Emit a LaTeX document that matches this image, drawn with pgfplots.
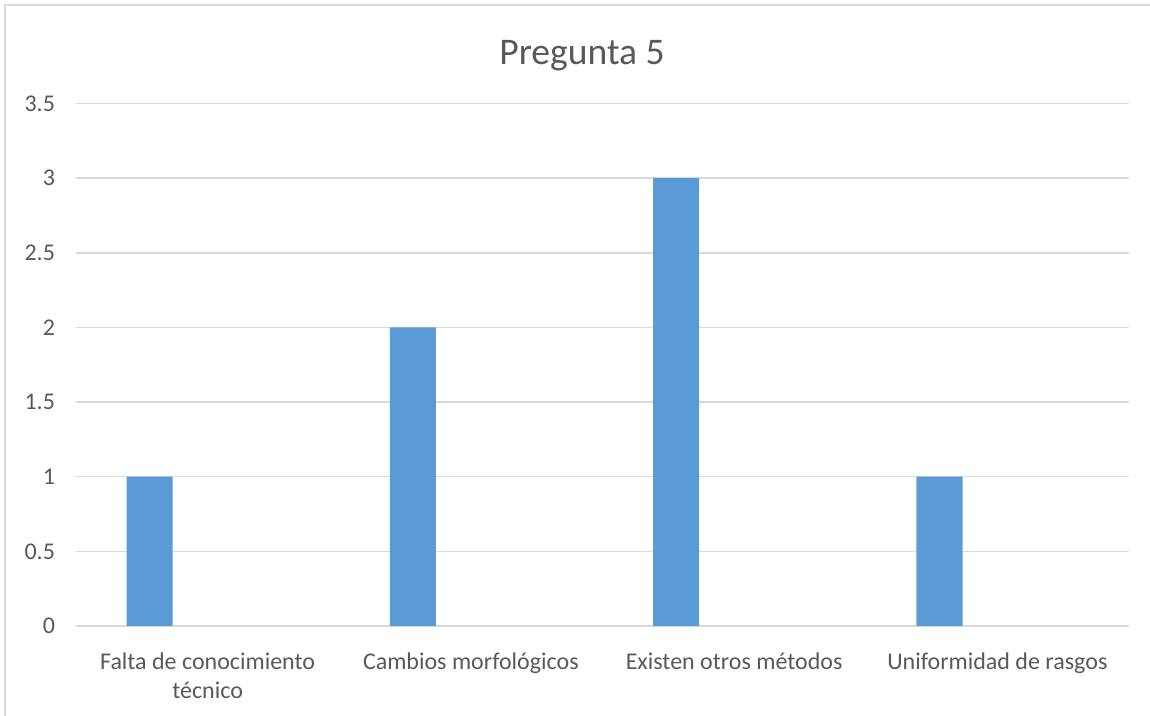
\documentclass[border=0pt]{standalone}
\usepackage{pgfplots}
\pgfplotsset{compat=1.18}
\usepackage{fontspec}
\setmainfont{Carlito}
\definecolor{barblue}{HTML}{5B9BD5}
\definecolor{gridgray}{HTML}{D9D9D9}
\definecolor{txtgray}{HTML}{595959}
\begin{document}
\begin{tikzpicture}[x=1pt,y=1pt]
\useasboundingbox (0,0) rectangle (575,358);
\draw[gridgray, line width=0.75pt] (2.5,0) -- (2.5,355.5) -- (575,355.5);
\node[txtgray, font=\fontsize{18.8}{22}\selectfont] at (291,330) {Pregunta 5};
\begin{axis}[
  at={(38pt,45pt)}, anchor=south west,
  scale only axis, width=526.5pt, height=261.2pt,
  xmin=0.5, xmax=4.5, ymin=0, ymax=3.5,
  ytick={0,0.5,1,1.5,2,2.5,3,3.5},
  xtick={1,2,3,4},
  xticklabels={{Falta de conocimiento\\técnico},{Cambios morfológicos},{Existen otros métodos},{Uniformidad de rasgos}},
  axis line style={draw=none},
  major tick length=0pt,
  ymajorgrids, grid style={gridgray, line width=0.75pt},
  /pgf/number format/assume math mode=true,
  ticklabel style={txtgray, font=\fontsize{12}{14.5}\selectfont},
  yticklabel style={xshift=-7pt},
  xticklabel style={align=center, yshift=-10pt},
  ybar, bar width=0.175, bar shift=-0.22,
]
\addplot[fill=barblue, draw=none] coordinates {(1,1) (2,2) (3,3) (4,1)};
\end{axis}
\end{tikzpicture}
\end{document}
